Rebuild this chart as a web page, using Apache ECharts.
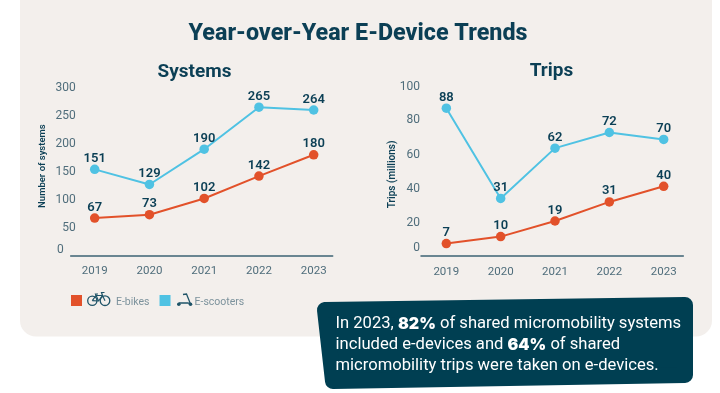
<!DOCTYPE html>
<html><head><meta charset="utf-8">
<style>html,body{margin:0;padding:0;background:#fff}#c{width:720px;height:393px}</style>
<script src="https://cdn.jsdelivr.net/npm/echarts@6/dist/echarts.min.js"></script>
</head><body><div id="c"></div>
<script>
const years = [2019, 2020, 2021, 2022, 2023];
// Values as positioned in the picture
const systemsEbikes = [67, 73, 102, 142, 180];
const systemsScooters = [154, 127, 190, 265, 260];
const tripsEbikes = [7, 11, 20, 31, 40];
const tripsScooters = [85, 33, 62, 71, 67];
// Values as printed on the picture
const systemsEbikesLabels = [67, 73, 102, 142, 180];
const systemsScootersLabels = [151, 129, 190, 265, 264];
const tripsEbikesLabels = [7, 10, 19, 31, 40];
const tripsScootersLabels = [88, 31, 62, 72, 70];
const systemsTicks = [0, 50, 100, 150, 200, 250, 300];
const tripsTicks = [0, 20, 40, 60, 80, 100];

const FONT = 'Roboto';
const NAVY = '#0b3f55', TICK = '#4f6d7b', ORANGE = '#e2512a', BLUE = '#4fc2e3';

function lineSeries(name, color, vals, labels, axis) {
  return {
    type: 'line', name, xAxisIndex: axis, yAxisIndex: axis,
    data: years.map((y, i) => [y, vals[i]]),
    symbol: 'circle', symbolSize: 9.5, silent: true, animation: false,
    lineStyle: { color, width: 2 }, itemStyle: { color },
    label: { show: true, position: 'top', distance: -0.5, color: NAVY,
      fontFamily: FONT, fontWeight: 600, fontSize: 13,
      formatter: p => String(labels[p.dataIndex]) }
  };
}
function xAxis(grid, min, max) {
  return { type: 'value', gridIndex: grid, min, max, splitLine: { show: false },
    axisTick: { show: false },
    axisLine: { onZero: false, lineStyle: { color: '#3d6373', width: 1.5 } },
    axisLabel: { customValues: years, formatter: v => String(v), margin: 10,
      color: TICK, fontFamily: FONT, fontSize: 11.5 } };
}
function yAxis(grid, max, interval, name, nameGap, pad, fs, labelMargin, rich, fmt) {
  return { type: 'value', gridIndex: grid, min: 0, max, interval,
    splitLine: { show: false }, axisTick: { show: false }, axisLine: { show: false },
    name, nameLocation: 'middle', nameGap, nameRotate: 90, nameMoveOverlap: false,
    nameTextStyle: { color: NAVY, fontFamily: FONT, fontWeight: 600, fontSize: fs, padding: pad },
    axisLabel: { margin: labelMargin, color: TICK, fontFamily: FONT, fontSize: 12, formatter: fmt, rich } };
}
const tickStyle = p => ({ color: TICK, fontFamily: FONT, fontSize: 12, padding: p });

const chart = echarts.init(document.getElementById('c'), null, { renderer: 'canvas' });
chart.setOption({
  animation: false,
  backgroundColor: '#ffffff',
  graphic: [
    { type: 'rect', z: -10, shape: { x: 20, y: -20, width: 692, height: 356.5, r: 16 }, style: { fill: '#f3efec' } },
    { type: 'polygon', z: 10, shape: { points: [[325, 310], [685, 305], [685, 375], [333, 381]] },
      style: { fill: '#003f52', stroke: '#003f52', lineWidth: 16, lineJoin: 'round' } },
    { type: 'text', z: 11, x: 335.5, y: 313.5,
      style: { text: 'In 2023, {b|82%} of shared micromobility systems\nincluded e-devices and {b|64%} of shared\nmicromobility trips were taken on e-devices.',
        fill: '#ffffff', fontFamily: FONT, fontSize: 16.6, lineHeight: 21,
        rich: { b: { fontFamily: 'Inter', fontWeight: 900, fontSize: 16, lineHeight: 21, fill: '#fff', color: '#fff' } } } },
    // bicycle icon
    { type: 'group', z: 5, children: [
      { type: 'circle', shape: { cx: 92.3, cy: 300.7, r: 4.6 }, style: { fill: 'none', stroke: '#1f5468', lineWidth: 1.3 } },
      { type: 'circle', shape: { cx: 105, cy: 300.7, r: 4.8 }, style: { fill: 'none', stroke: '#1f5468', lineWidth: 1.3 } },
      { type: 'polyline', shape: { points: [[92.3, 300.7], [96, 295.5], [102.5, 295.5], [105, 300.7]] }, style: { fill: 'none', stroke: '#1f5468', lineWidth: 1.2 } },
      { type: 'polyline', shape: { points: [[92.3, 300.7], [98.5, 301], [102.5, 295.5], [101.5, 292.5], [104.5, 292.5]] }, style: { fill: 'none', stroke: '#1f5468', lineWidth: 1.2 } },
      { type: 'polyline', shape: { points: [[98.5, 301], [95.5, 294], [98, 294]] }, style: { fill: 'none', stroke: '#1f5468', lineWidth: 1.2 } }
    ] },
    // scooter icon
    { type: 'group', z: 5, children: [
      { type: 'circle', shape: { cx: 178.8, cy: 304.2, r: 1.8 }, style: { fill: '#1f5468' } },
      { type: 'circle', shape: { cx: 190.5, cy: 304.2, r: 1.8 }, style: { fill: '#1f5468' } },
      { type: 'polyline', shape: { points: [[178.8, 303], [188, 303], [190.5, 304], [186.5, 294], [183, 294.5]] }, style: { fill: 'none', stroke: '#1f5468', lineWidth: 1.3 } }
    ] }
  ],
  title: [
    { text: 'Year-over-Year E-Device Trends', left: 358, top: 34, padding: 0, textAlign: 'center', textVerticalAlign: 'middle',
      textStyle: { color: NAVY, fontFamily: FONT, fontWeight: 800, fontSize: 23.3 } },
    { text: 'Systems', left: 194.5, top: 72, padding: 0, textAlign: 'center', textVerticalAlign: 'middle',
      textStyle: { color: NAVY, fontFamily: FONT, fontWeight: 700, fontSize: 19 } },
    { text: 'Trips', left: 551.5, top: 71.5, padding: 0, textAlign: 'center', textVerticalAlign: 'middle',
      textStyle: { color: NAVY, fontFamily: FONT, fontWeight: 700, fontSize: 19 } }
  ],
  legend: {
    left: 71, top: 295, padding: 0, itemWidth: 11, itemHeight: 11, itemGap: 10, icon: 'rect',
    data: ['E-bikes', 'E-scooters'], selectedMode: false,
    formatter: n => n === 'E-bikes' ? '{a|' + n + '}' : '{b|' + n + '}',
    textStyle: { rich: {
      a: { color: '#7c929c', fontFamily: FONT, fontSize: 10.5, padding: [3, 0, 0, 29] },
      b: { color: '#7c929c', fontFamily: FONT, fontSize: 10.5, padding: [3, 0, 0, 19] } } }
  },
  grid: [
    { left: 70.7, width: 262, top: 87.6, height: 168 },
    { left: 421, width: 262.3, top: 82.2, height: 173.5 }
  ],
  xAxis: [xAxis(0, 2018.562, 2023.347), xAxis(1, 2018.534, 2023.361)],
  yAxis: [
    yAxis(0, systemsTicks[systemsTicks.length - 1], systemsTicks[1], 'Number of systems', 23, [0, 0, 0, 11], 9.5, -5,
      { z: tickStyle([0, 12, 11, 0]) }, v => v === 0 ? '{z|' + v + '}' : String(v)),
    yAxis(1, tripsTicks[tripsTicks.length - 1], tripsTicks[1], 'Trips (millions)', 24, [0, 11, 0, 0], 10, 1,
      { z: tickStyle([0, 0, 16, 0]), a: tickStyle([3, 0, 0, 0]), c: tickStyle([5, 0, 0, 0]), d: tickStyle([6, 0, 0, 0]), e: tickStyle([7, 0, 0, 0]), f: tickStyle([9, 0, 0, 0]) },
      v => { const m = { 0: 'z', 20: 'a', 40: 'c', 60: 'd', 80: 'e', 100: 'f' }; return '{' + m[v] + '|' + v + '}'; })
  ],
  series: [
    lineSeries('E-bikes', ORANGE, systemsEbikes, systemsEbikesLabels, 0),
    lineSeries('E-scooters', BLUE, systemsScooters, systemsScootersLabels, 0),
    lineSeries('E-bikes', ORANGE, tripsEbikes, tripsEbikesLabels, 1),
    lineSeries('E-scooters', BLUE, tripsScooters, tripsScootersLabels, 1)
  ]
});
</script></body></html>
